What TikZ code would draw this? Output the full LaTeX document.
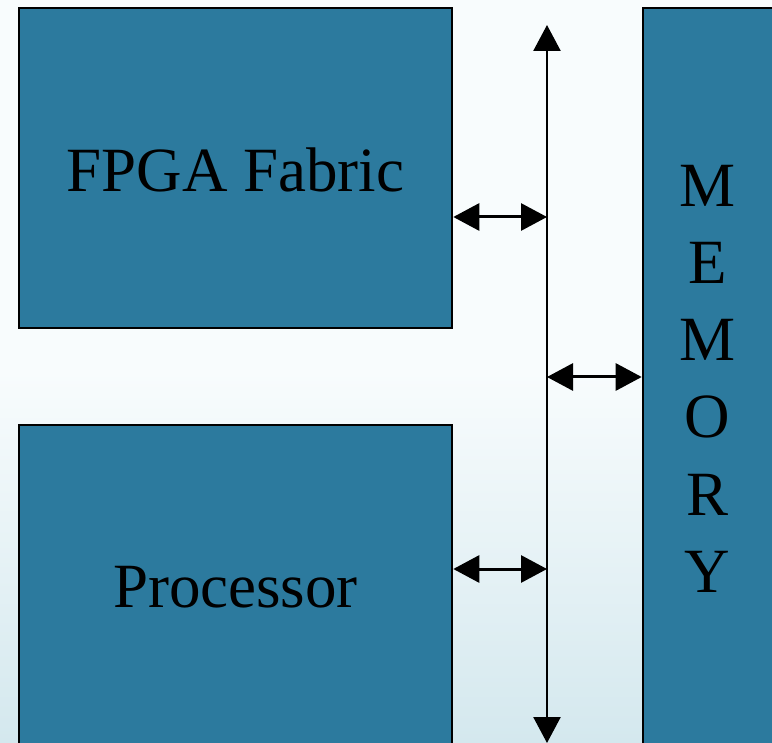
\documentclass[tikz,border=0pt]{standalone}
\usepackage{fontspec}
\setmainfont{Liberation Serif}
\usepackage{tikz}
\usetikzlibrary{arrows.meta, positioning, calc}

\definecolor{blockblue}{RGB}{44,122,158}
\definecolor{bgtop}{RGB}{248,252,253}
\definecolor{bgbottom}{RGB}{212,232,238}

\tikzset{
  block/.style={draw=black, line width=2.6pt, fill=blockblue, inner sep=0pt},
  bigtext/.style={font=\fontsize{63}{63}\selectfont, inner sep=0pt, anchor=base},
  link/.style={line width=3pt, {Triangle[length=26pt,width=27pt]}-{Triangle[length=26pt,width=27pt]}}
}

\begin{document}
\begin{tikzpicture}[x=1pt, y=-1pt]
  % background
  \shade[top color=bgtop, bottom color=bgbottom, middle color=bgtop, shading angle=0]
    (0,0) rectangle (772,743);
  \clip (0,0) rectangle (772,743);

  \node[block, minimum width=433pt, minimum height=320pt] (fpga) at (235.5,168) {};
  \node[bigtext] (fpgalabel) at (235.5,192) {FPGA Fabric};
  \node[block, minimum width=433pt, minimum height=340pt] (cpu) at (235.5,595) {};
  \node[bigtext] (cpulabel) at (235.5,607) {Processor};
  \node[block, minimum width=150pt, minimum height=760pt] (mem) at (718,388) {};
  \foreach \ch [count=\i from 0] in {M,E,M,O,R,Y}
    \node[bigtext] (mem\i) at (707.5,207+77*\i) {\ch};

  % bus
  \coordinate (bustop) at (547,25);
  \coordinate (busbot) at (547,743);
  \coordinate (busf) at (547,217);
  \coordinate (busm) at (547,377);
  \coordinate (busp) at (547,569);

  \path[link]
    (busf -| fpga.east) edge (busf)
    (busm) edge (busm -| mem.west)
    (busp -| cpu.east) edge (busp);
  \draw[link, line width=2.5pt] (bustop) -- (busbot);
\end{tikzpicture}
\end{document}
